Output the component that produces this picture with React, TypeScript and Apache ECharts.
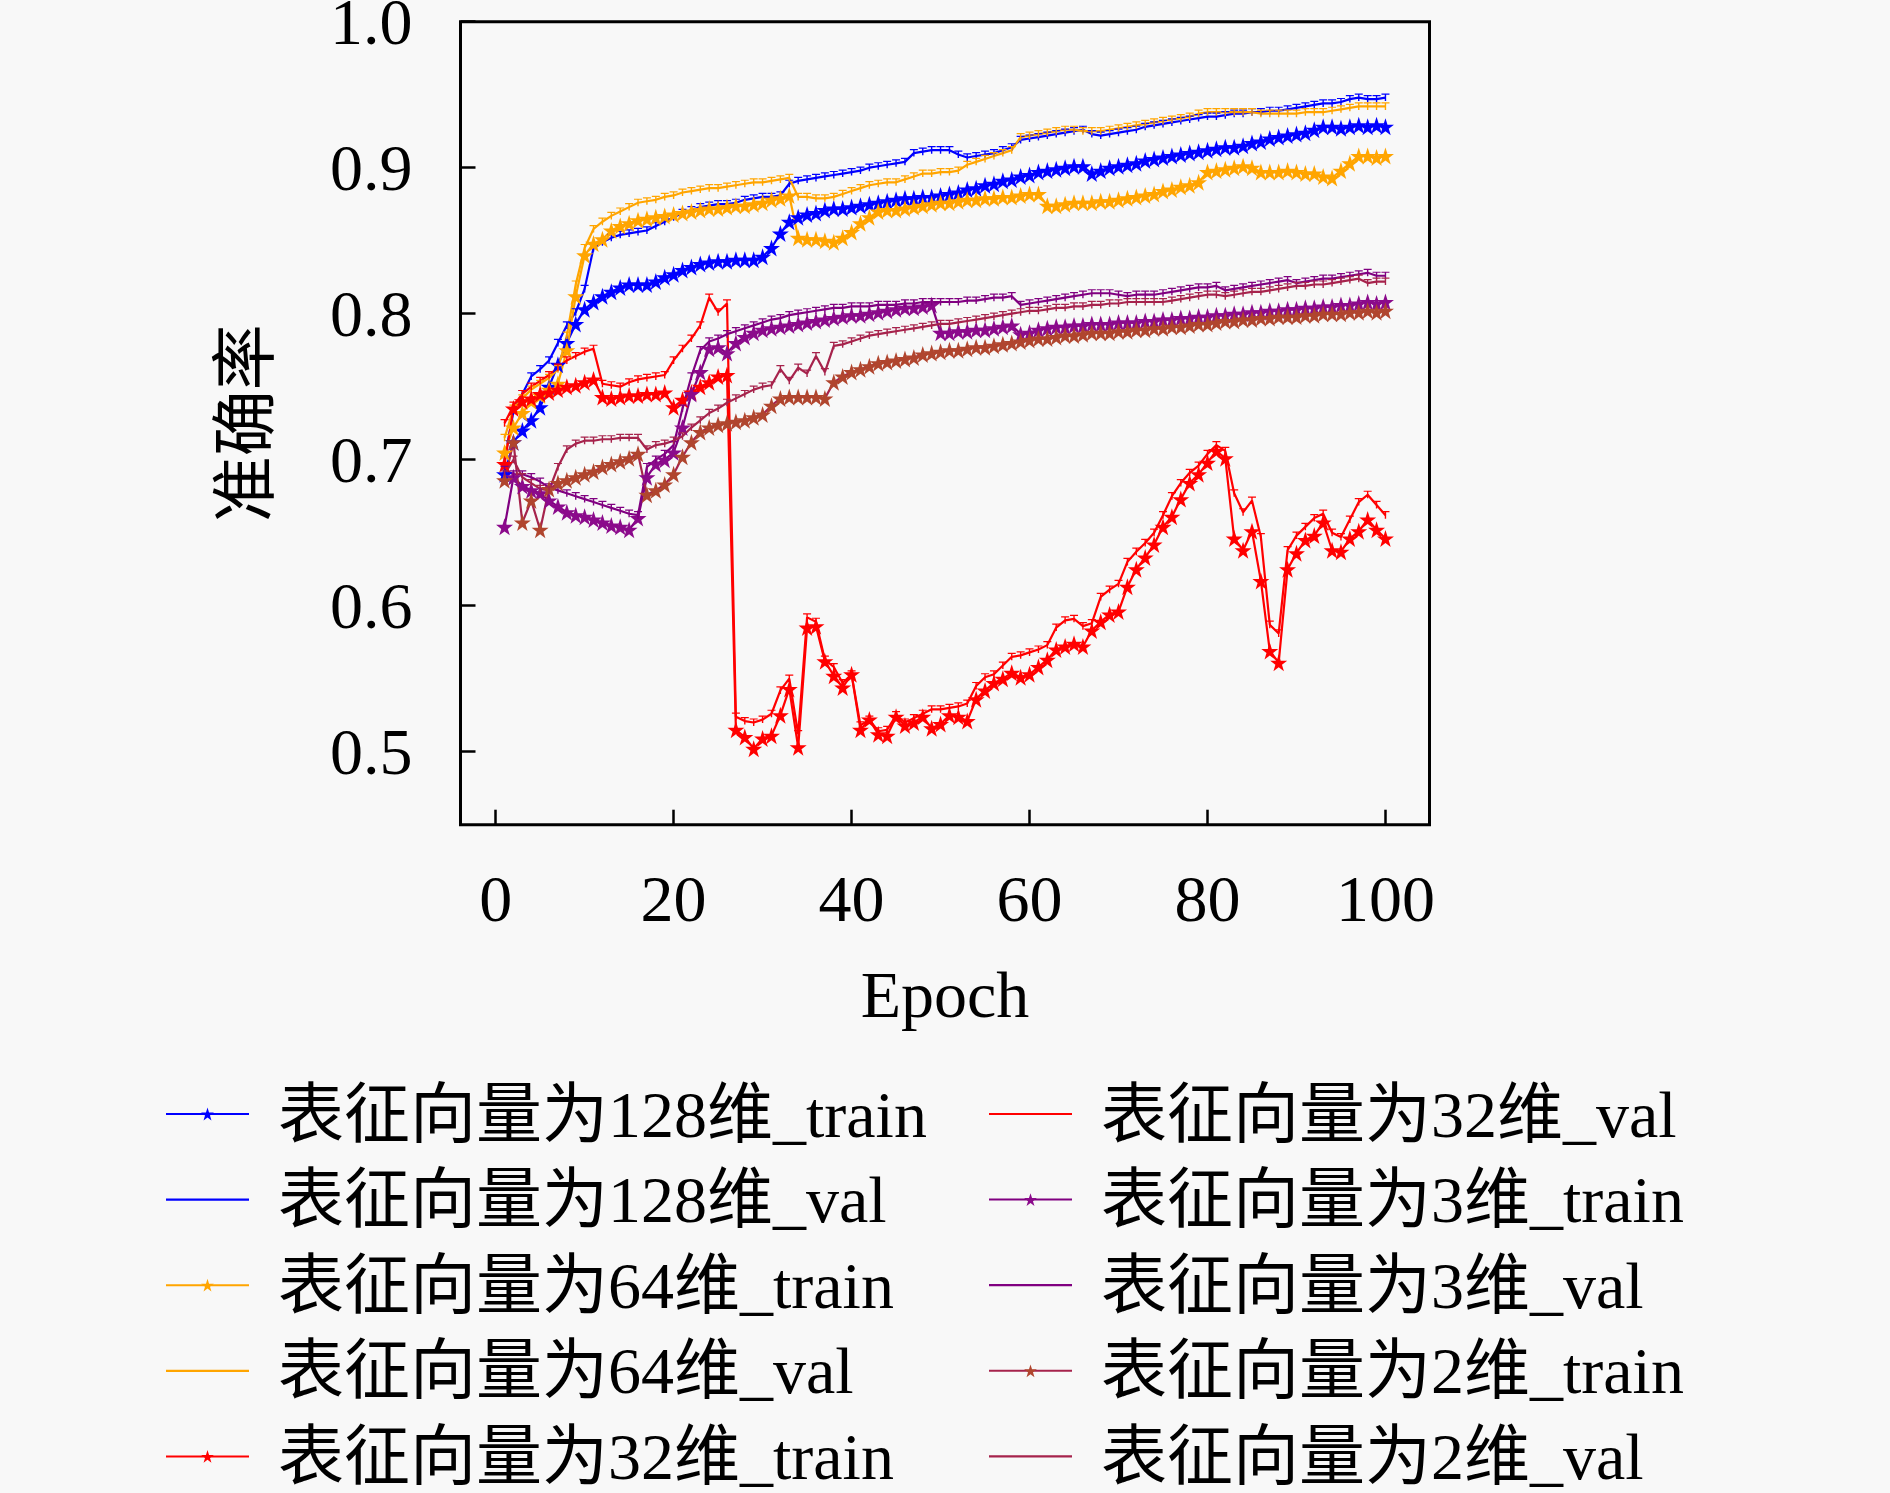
import { useEffect, useRef } from 'react';
import * as echarts from 'echarts';

// 横轴：epoch 1..100
const epochs: number[] = Array.from({ length: 100 }, (_, i) => i + 1);

const xTicks = [0, 20, 40, 60, 80, 100];
const yTicks = [0.5, 0.6, 0.7, 0.8, 0.9, 1.0];

// 128 维
const train128 = [
  0.690, 0.712, 0.720, 0.727, 0.736, 0.750, 0.765, 0.780, 0.793, 0.803,
  0.808, 0.812, 0.815, 0.818, 0.820, 0.820, 0.820, 0.822, 0.825, 0.827,
  0.830, 0.832, 0.834, 0.835, 0.836, 0.836, 0.837, 0.837, 0.837, 0.839,
  0.845, 0.855, 0.863, 0.866, 0.868, 0.869, 0.871, 0.872, 0.872, 0.873,
  0.874, 0.875, 0.876, 0.877, 0.878, 0.879, 0.879, 0.880, 0.880, 0.881,
  0.882, 0.883, 0.885, 0.886, 0.888, 0.889, 0.891, 0.892, 0.894, 0.895,
  0.897, 0.898, 0.899, 0.900, 0.901, 0.901, 0.896, 0.898, 0.900, 0.901,
  0.902, 0.903, 0.905, 0.906, 0.907, 0.908, 0.909, 0.910, 0.911, 0.912,
  0.913, 0.914, 0.914, 0.915, 0.917, 0.918, 0.920, 0.921, 0.922, 0.923,
  0.924, 0.926, 0.928, 0.928, 0.927, 0.928, 0.929, 0.928, 0.929, 0.928,
];
const val128 = [
  0.700, 0.733, 0.745, 0.757, 0.762, 0.768, 0.780, 0.792, 0.801, 0.817,
  0.845, 0.849, 0.852, 0.854, 0.855, 0.856, 0.857, 0.860, 0.863, 0.866,
  0.869, 0.871, 0.873, 0.874, 0.875, 0.875, 0.876, 0.878, 0.879, 0.880,
  0.880, 0.881, 0.889, 0.891, 0.892, 0.893, 0.894, 0.895, 0.896, 0.897,
  0.898, 0.900, 0.901, 0.902, 0.903, 0.904, 0.910, 0.911, 0.912, 0.912,
  0.912, 0.909, 0.907, 0.908, 0.909, 0.910, 0.912, 0.914, 0.919, 0.920,
  0.921, 0.922, 0.923, 0.924, 0.925, 0.926, 0.923, 0.922, 0.923, 0.924,
  0.925, 0.926, 0.928, 0.929, 0.930, 0.931, 0.932, 0.933, 0.934, 0.935,
  0.935, 0.936, 0.937, 0.937, 0.938, 0.938, 0.939, 0.939, 0.940, 0.941,
  0.942, 0.943, 0.944, 0.944, 0.945, 0.947, 0.948, 0.947, 0.947, 0.948,
];

// 64 维
const train64 = [
  0.705, 0.722, 0.732, 0.740, 0.744, 0.748, 0.752, 0.775, 0.812, 0.840,
  0.848, 0.851, 0.857, 0.860, 0.862, 0.864, 0.865, 0.866, 0.867, 0.868,
  0.869, 0.870, 0.871, 0.872, 0.872, 0.873, 0.874, 0.874, 0.875, 0.876,
  0.878, 0.879, 0.881, 0.852, 0.851, 0.851, 0.850, 0.849, 0.852, 0.856,
  0.862, 0.866, 0.870, 0.871, 0.871, 0.872, 0.873, 0.874, 0.875, 0.876,
  0.876, 0.877, 0.878, 0.878, 0.879, 0.879, 0.880, 0.880, 0.881, 0.882,
  0.882, 0.874, 0.874, 0.875, 0.876, 0.876, 0.876, 0.877, 0.877, 0.878,
  0.879, 0.880, 0.881, 0.882, 0.884, 0.885, 0.887, 0.888, 0.890, 0.897,
  0.898, 0.899, 0.900, 0.901, 0.900, 0.897, 0.897, 0.897, 0.898, 0.897,
  0.896, 0.896, 0.894, 0.893, 0.898, 0.903, 0.908, 0.908, 0.907, 0.908,
];
const val64 = [
  0.715, 0.735, 0.742, 0.748, 0.752, 0.756, 0.762, 0.785, 0.820, 0.845,
  0.858, 0.863, 0.867, 0.870, 0.873, 0.876, 0.877, 0.878, 0.880, 0.881,
  0.883, 0.884, 0.885, 0.886, 0.886, 0.887, 0.888, 0.889, 0.890, 0.890,
  0.891, 0.892, 0.893, 0.880, 0.880, 0.879, 0.879, 0.880, 0.882, 0.884,
  0.886, 0.888, 0.889, 0.890, 0.890, 0.892, 0.894, 0.896, 0.896, 0.897,
  0.897, 0.898, 0.902, 0.904, 0.906, 0.908, 0.910, 0.912, 0.921, 0.922,
  0.923, 0.924, 0.925, 0.926, 0.926, 0.925, 0.925, 0.925, 0.926, 0.927,
  0.928, 0.929, 0.930, 0.931, 0.932, 0.933, 0.934, 0.935, 0.937, 0.938,
  0.938, 0.938, 0.938, 0.938, 0.938, 0.937, 0.937, 0.937, 0.937, 0.937,
  0.938, 0.938, 0.938, 0.939, 0.940, 0.941, 0.942, 0.942, 0.942, 0.942,
];

// 32 维
const train32 = [
  0.697, 0.735, 0.740, 0.742, 0.745, 0.746, 0.748, 0.750, 0.751, 0.753,
  0.755, 0.743, 0.742, 0.743, 0.744, 0.744, 0.745, 0.745, 0.746, 0.736,
  0.741, 0.746, 0.750, 0.753, 0.757, 0.758, 0.515, 0.510, 0.502, 0.509,
  0.511, 0.525, 0.543, 0.503, 0.585, 0.586, 0.562, 0.552, 0.544, 0.553,
  0.515, 0.522, 0.512, 0.511, 0.524, 0.518, 0.520, 0.524, 0.516, 0.519,
  0.525, 0.524, 0.521, 0.536, 0.542, 0.547, 0.550, 0.554, 0.551, 0.553,
  0.558, 0.563, 0.570, 0.572, 0.574, 0.572, 0.583, 0.589, 0.594, 0.596,
  0.613, 0.625, 0.633, 0.642, 0.654, 0.661, 0.673, 0.684, 0.690, 0.698,
  0.706, 0.701, 0.646, 0.638, 0.651, 0.617, 0.569, 0.561, 0.625, 0.636,
  0.645, 0.648, 0.657, 0.638, 0.637, 0.646, 0.651, 0.659, 0.652, 0.646,
];
const val32 = [
  0.725, 0.737, 0.745, 0.750, 0.754, 0.758, 0.763, 0.768, 0.771, 0.774,
  0.776, 0.752, 0.751, 0.750, 0.753, 0.755, 0.756, 0.757, 0.758, 0.768,
  0.776, 0.783, 0.792, 0.811, 0.801, 0.807, 0.524, 0.521, 0.520, 0.522,
  0.526, 0.542, 0.550, 0.512, 0.592, 0.589, 0.563, 0.558, 0.547, 0.553,
  0.518, 0.522, 0.514, 0.515, 0.525, 0.520, 0.523, 0.526, 0.529, 0.529,
  0.530, 0.531, 0.533, 0.545, 0.551, 0.553, 0.559, 0.565, 0.566, 0.568,
  0.570, 0.573, 0.585, 0.590, 0.591, 0.586, 0.588, 0.606, 0.611, 0.615,
  0.630, 0.637, 0.643, 0.650, 0.662, 0.675, 0.684, 0.691, 0.696, 0.704,
  0.710, 0.706, 0.677, 0.664, 0.672, 0.647, 0.587, 0.581, 0.638, 0.648,
  0.654, 0.660, 0.663, 0.650, 0.647, 0.659, 0.671, 0.676, 0.669, 0.662,
];

// 3 维
const train3 = [
  0.654, 0.688, 0.682, 0.679, 0.677, 0.672, 0.668, 0.664, 0.662, 0.661,
  0.659, 0.657, 0.655, 0.654, 0.652, 0.660, 0.688, 0.697, 0.700, 0.705,
  0.722, 0.745, 0.760, 0.776, 0.777, 0.773, 0.780, 0.784, 0.787, 0.789,
  0.790, 0.791, 0.792, 0.793, 0.794, 0.795, 0.796, 0.797, 0.798, 0.799,
  0.799, 0.800, 0.801, 0.802, 0.803, 0.804, 0.804, 0.805, 0.806, 0.787,
  0.787, 0.788, 0.788, 0.789, 0.789, 0.790, 0.791, 0.792, 0.786, 0.787,
  0.789, 0.790, 0.791, 0.791, 0.792, 0.792, 0.793, 0.793, 0.793, 0.794,
  0.794, 0.794, 0.795, 0.795, 0.796, 0.796, 0.797, 0.797, 0.798, 0.798,
  0.799, 0.799, 0.800, 0.800, 0.801, 0.801, 0.802, 0.802, 0.803, 0.803,
  0.804, 0.804, 0.805, 0.805, 0.806, 0.806, 0.807, 0.808, 0.807, 0.808,
];
const val3 = [
  0.693, 0.690, 0.690, 0.688, 0.685, 0.681, 0.679, 0.677, 0.675, 0.673,
  0.671, 0.669, 0.667, 0.665, 0.663, 0.662, 0.695, 0.700, 0.704, 0.710,
  0.735, 0.757, 0.775, 0.781, 0.783, 0.786, 0.788, 0.790, 0.792, 0.794,
  0.796, 0.797, 0.799, 0.800, 0.801, 0.802, 0.803, 0.804, 0.804, 0.805,
  0.805, 0.805, 0.806, 0.806, 0.806, 0.807, 0.807, 0.808, 0.808, 0.808,
  0.808, 0.808, 0.809, 0.809, 0.810, 0.811, 0.811, 0.812, 0.806, 0.807,
  0.808, 0.809, 0.810, 0.811, 0.812, 0.813, 0.814, 0.814, 0.814, 0.813,
  0.812, 0.813, 0.813, 0.813, 0.814, 0.815, 0.816, 0.817, 0.818, 0.818,
  0.819, 0.816, 0.817, 0.818, 0.819, 0.820, 0.821, 0.822, 0.823, 0.821,
  0.822, 0.823, 0.824, 0.824, 0.825, 0.826, 0.827, 0.828, 0.826, 0.826,
];

// 2 维
const train2 = [
  0.686, 0.712, 0.657, 0.672, 0.652, 0.680, 0.684, 0.686, 0.688, 0.690,
  0.692, 0.695, 0.697, 0.699, 0.701, 0.704, 0.676, 0.679, 0.683, 0.690,
  0.702, 0.712, 0.719, 0.722, 0.724, 0.725, 0.726, 0.727, 0.729, 0.731,
  0.737, 0.742, 0.743, 0.743, 0.743, 0.743, 0.742, 0.753, 0.757, 0.760,
  0.762, 0.764, 0.766, 0.767, 0.768, 0.769, 0.770, 0.772, 0.773, 0.774,
  0.775, 0.775, 0.776, 0.777, 0.777, 0.778, 0.779, 0.780, 0.781, 0.782,
  0.783, 0.783, 0.784, 0.785, 0.785, 0.786, 0.787, 0.787, 0.787, 0.788,
  0.788, 0.789, 0.789, 0.790, 0.790, 0.791, 0.791, 0.792, 0.793, 0.793,
  0.794, 0.795, 0.795, 0.796, 0.796, 0.797, 0.797, 0.798, 0.798, 0.798,
  0.799, 0.799, 0.800, 0.800, 0.800, 0.801, 0.801, 0.802, 0.801, 0.802,
];
const val2 = [
  0.690, 0.700, 0.688, 0.684, 0.680, 0.679, 0.695, 0.707, 0.711, 0.713,
  0.713, 0.714, 0.714, 0.715, 0.715, 0.715, 0.707, 0.710, 0.711, 0.713,
  0.716, 0.722, 0.727, 0.732, 0.735, 0.739, 0.742, 0.745, 0.748, 0.750,
  0.751, 0.762, 0.754, 0.763, 0.759, 0.771, 0.760, 0.778, 0.779, 0.781,
  0.783, 0.785, 0.786, 0.787, 0.788, 0.789, 0.790, 0.791, 0.792, 0.793,
  0.793, 0.794, 0.795, 0.796, 0.797, 0.798, 0.799, 0.800, 0.801, 0.802,
  0.802, 0.803, 0.804, 0.804, 0.805, 0.805, 0.806, 0.806, 0.807, 0.807,
  0.808, 0.808, 0.808, 0.808, 0.808, 0.809, 0.810, 0.811, 0.812, 0.813,
  0.813, 0.812, 0.813, 0.814, 0.815, 0.815, 0.816, 0.817, 0.818, 0.819,
  0.819, 0.820, 0.820, 0.821, 0.822, 0.823, 0.824, 0.821, 0.822, 0.822,
];

const seriesDefs = [
  { name: '表征向量为128维_train', values: train128, color: '#0000ff', mark: '#0000ff', train: true },
  { name: '表征向量为128维_val', values: val128, color: '#0000ff', mark: '#0000ff', train: false },
  { name: '表征向量为64维_train', values: train64, color: '#ffa500', mark: '#ffa500', train: true },
  { name: '表征向量为64维_val', values: val64, color: '#ffa500', mark: '#ffa500', train: false },
  { name: '表征向量为32维_train', values: train32, color: '#ff0000', mark: '#ff0000', train: true },
  { name: '表征向量为32维_val', values: val32, color: '#ff0000', mark: '#ff0000', train: false },
  { name: '表征向量为3维_train', values: train3, color: '#800080', mark: '#8b0a8b', train: true },
  { name: '表征向量为3维_val', values: val3, color: '#800080', mark: '#800080', train: false },
  { name: '表征向量为2维_train', values: train2, color: '#a6234c', mark: '#b0452e', train: true },
  { name: '表征向量为2维_val', values: val2, color: '#a6234c', mark: '#a6234c', train: false },
];

const STAR = 'path://M50,0L61.8,35.5L99,35.5L69,57.4L80.3,92.7L50,71L19.7,92.7L31,57.4L1,35.5L38.2,35.5Z';
const TRI = 'path://M0,0L10,0M5,0L5,9';
const LINE_ICON = 'path://M0,0H100V2.6H0Z';
const FONT = "'Liberation Serif', 'Noto Sans CJK SC', serif";
const FS = 66;
const BG = '#f8f8f8';

const Chart = () => {
  const chartRef = useRef<HTMLDivElement>(null);

  useEffect(() => {
    if (!chartRef.current) return;
    const chart = echarts.init(chartRef.current, undefined, { renderer: 'svg' });

    const legendItems = seriesDefs.map(s =>
      s.train ? { name: s.name } : { name: s.name, icon: LINE_ICON }
    );

    const legendBase = {
      orient: 'vertical',
      top: 1081,
      itemWidth: 83,
      itemHeight: 16,
      itemGap: 19.6,
      padding: 0,
      selectedMode: false,
      itemStyle: { borderWidth: 0 },
      textStyle: { fontFamily: FONT, fontSize: FS, color: '#000', padding: [0, 0, 0, 24] },
    };

    const option: any = {
      animation: false,
      backgroundColor: BG,
      grid: {
        left: 460.5,
        top: 21.7,
        width: 969,
        height: 803,
        show: true,
        borderColor: '#000',
        borderWidth: 3,
        backgroundColor: 'transparent',
        outerBoundsMode: 'none',
        containLabel: false,
      },
      xAxis: {
        type: 'value',
        min: -3.95,
        max: 104.95,
        name: 'Epoch',
        nameLocation: 'middle',
        nameGap: 137,
        nameTextStyle: { fontFamily: FONT, fontSize: FS, color: '#000' },
        axisLine: { show: false, onZero: false },
        splitLine: { show: false },
        axisTick: {
          show: true,
          inside: true,
          length: 15,
          customValues: xTicks,
          lineStyle: { color: '#000', width: 2.5 },
        },
        axisLabel: {
          customValues: xTicks,
          margin: 41,
          fontFamily: FONT,
          fontSize: FS,
          color: '#000',
        },
      },
      yAxis: {
        type: 'value',
        min: 0.45,
        max: 1.0,
        name: '准确率',
        nameLocation: 'middle',
        nameGap: 182,
        nameRotate: 90,
        nameTextStyle: { fontFamily: FONT, fontSize: FS, color: '#000' },
        axisLine: { show: false, onZero: false },
        splitLine: { show: false },
        axisTick: {
          show: true,
          inside: true,
          length: 15,
          customValues: yTicks,
          lineStyle: { color: '#000', width: 2.5 },
        },
        axisLabel: {
          customValues: yTicks,
          margin: 48,
          fontFamily: FONT,
          fontSize: FS,
          color: '#000',
          formatter: (v: number) => v.toFixed(1),
        },
      },
      legend: [
        { ...legendBase, left: 165, data: legendItems.slice(0, 5) },
        { ...legendBase, left: 988, data: legendItems.slice(5) },
      ],
      series: seriesDefs.map(s => ({
        name: s.name,
        type: 'line',
        data: epochs.map((e, i) => [e, s.values[i]]),
        showSymbol: true,
        symbol: s.train ? STAR : TRI,
        symbolSize: s.train ? 17 : [8, 7],
        lineStyle: { color: s.color, width: 2.2 },
        itemStyle: s.train
          ? { color: s.mark, borderWidth: 0 }
          : { color: s.mark, borderColor: s.mark, borderWidth: 1.3 },
        emphasis: { disabled: true },
      })),
    };

    chart.setOption(option);

    return () => {
      chart.dispose();
    };
  }, []);

  return (
    <div
      ref={chartRef}
      style={{ position: 'fixed', left: 0, top: 0, width: 1890, height: 1493, background: BG }}
    />
  );
};

export default function App() {
  return <Chart />;
}
